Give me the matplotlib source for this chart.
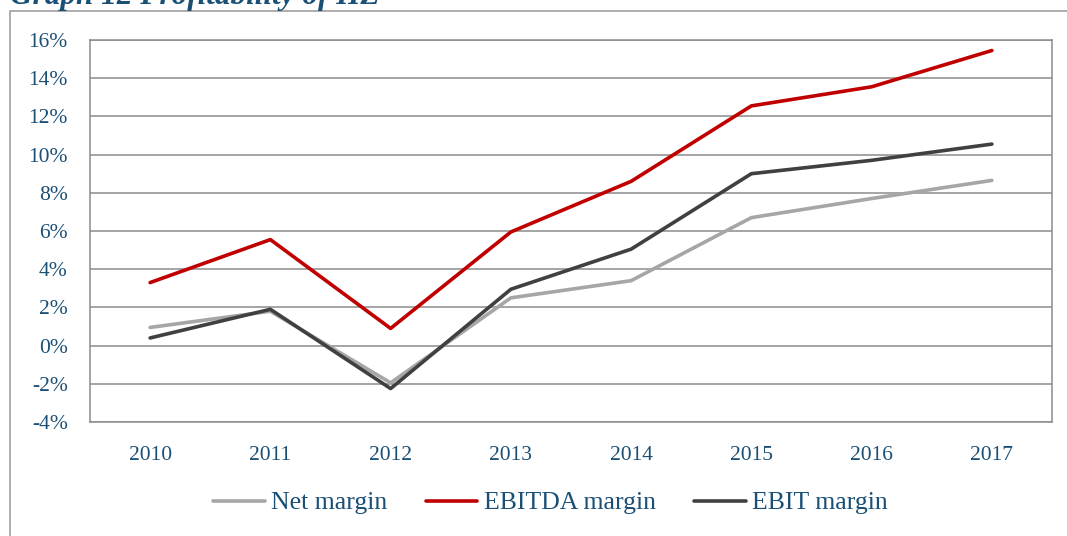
import matplotlib
matplotlib.use("Agg")
import matplotlib.pyplot as plt
from matplotlib.lines import Line2D

# values (in %)
years = ["2010", "2011", "2012", "2013", "2014", "2015", "2016", "2017"]
net_margin = [0.95, 1.8, -1.95, 2.5, 3.4, 6.7, 7.7, 8.65]
ebitda_margin = [3.3, 5.55, 0.9, 5.95, 8.6, 12.55, 13.55, 15.45]
ebit_margin = [0.4, 1.9, -2.25, 2.95, 5.05, 9.0, 9.7, 10.55]

blue = "#1a4f76"
grid_col = "#8c8c8c"

fig = plt.figure(figsize=(10.67, 5.36), dpi=100)
ax = fig.add_axes([90 / 1067, 1 - 422 / 536, 962 / 1067, 382 / 536])

x = list(range(len(years)))
ax.plot(x, net_margin, color="#a6a6a6", lw=2.6, label="Net margin", solid_capstyle="round")
ax.plot(x, ebitda_margin, color="#c00000", lw=2.6, label="EBITDA margin", solid_capstyle="round")
ax.plot(x, ebit_margin, color="#404040", lw=2.6, label="EBIT margin", solid_capstyle="round")

ax.set_xlim(-0.5, len(years) - 0.5)
ax.set_ylim(-4, 16)
ax.set_yticks(range(-4, 17, 2))
ax.set_yticklabels([f"{v}%" for v in range(-4, 17, 2)])
ax.set_xticks(x)
ax.set_xticklabels(years)
ax.yaxis.grid(True, color=grid_col, lw=1.1)
ax.set_axisbelow(True)
for s in ax.spines.values():
    s.set_color(grid_col)
    s.set_linewidth(1.1)
ax.tick_params(length=0, colors=blue, labelsize=15.5)
ax.tick_params(axis="y", pad=16)
ax.tick_params(axis="x", pad=17)
for lab in ax.get_xticklabels() + ax.get_yticklabels():
    lab.set_family("Liberation Serif")

leg = fig.legend(loc="center", bbox_to_anchor=(0.516, 1 - 503 / 536), ncol=3, frameon=False,
                 handlelength=2.0, columnspacing=1.5, handletextpad=0.25,
                 prop={"family": "Liberation Serif", "size": 18.5})
for t in leg.get_texts():
    t.set_color(blue)

# outer frame
fig.add_artist(Line2D([10 / 1067, 10 / 1067, 1.0], [0, 1 - 11 / 536, 1 - 11 / 536],
                      transform=fig.transFigure, color="#a0a0a0", lw=1.2))
fig.text(10 / 1067, 1 - 4 / 536, "Graph 12 Profitability of HZ", color=blue,
         fontsize=22.5, fontweight="bold", fontstyle="italic", family="Liberation Serif",
         va="baseline", ha="left")

fig.savefig("out.png", dpi=100)
